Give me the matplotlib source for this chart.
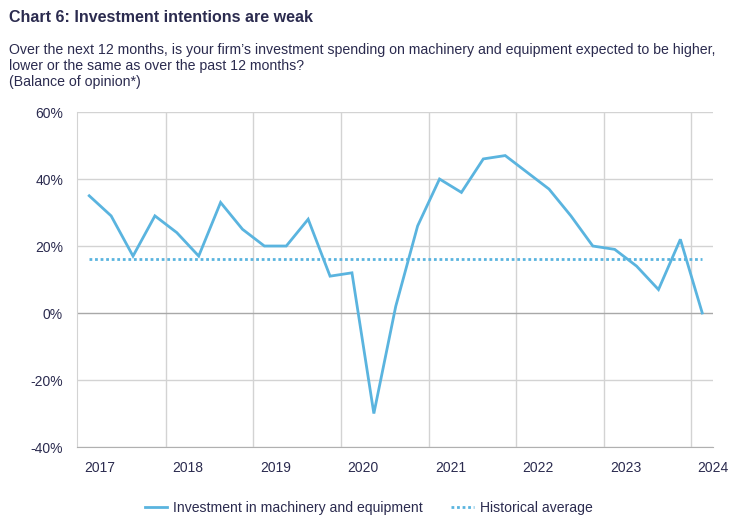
import matplotlib.pyplot as plt
from matplotlib.ticker import FuncFormatter

plt.rcParams['font.family'] = ['Liberation Sans', 'DejaVu Sans']

# Quarterly balance of opinion, % (2017 to 2024)
investment = [35, 29, 17, 29, 24, 17, 33, 25, 20, 20, 28, 11, 12,
              -30, 2, 26, 40, 36, 46, 47, 42, 37, 29, 20, 19, 14, 7, 22, 0]
historical_avg = 16
year_labels = ['2017', '2018', '2019', '2020', '2021', '2022', '2023', '2024']
y_ticks = [-40, -20, 0, 20, 40, 60]

line_col = '#5ab4df'
text_col = '#2b2b4f'
grid_col = '#d3d3d3'

fig = plt.figure(figsize=(7.33, 5.21), dpi=100)
ax = fig.add_axes([0.105, 0.142, 0.868, 0.643])

x = list(range(len(investment)))
ax.plot(x, investment, color=line_col, lw=2, label='Investment in machinery and equipment',
        solid_joinstyle='miter', zorder=3)
ax.plot([x[0], x[-1]], [historical_avg, historical_avg], color=line_col, lw=2,
        linestyle=(0, (1, 1)), label='Historical average', zorder=3)

# year gridlines sit between the Q4 and Q1 points, labels are offset
for k in range(7):
    ax.axvline(3.5 + 4 * k, color=grid_col, lw=1, zorder=1)
for yv in y_ticks:
    ax.axhline(yv, color='#a8a8a8' if yv == 0 else grid_col, lw=1, zorder=1)

ax.set_xlim(-0.56, 28.4)
ax.set_ylim(-40, 60)
ax.set_yticks(y_ticks)
ax.yaxis.set_major_formatter(FuncFormatter(lambda v, p: f'{int(v)}%'))
ax.set_xticks([0.5 + 4 * k for k in range(len(year_labels))])
ax.set_xticklabels(year_labels)
ax.tick_params(axis='both', length=0, labelsize=10, colors=text_col)
ax.tick_params(axis='x', pad=10)
ax.tick_params(axis='y', pad=10)

for s in ['top', 'right']:
    ax.spines[s].set_visible(False)
ax.spines['left'].set_color(grid_col)
ax.spines['bottom'].set_color('#b0b0b0')

fig.text(0.012, 0.967, 'Chart 6: Investment intentions are weak', fontsize=11.5,
         fontweight='bold', color=text_col, va='center')
fig.text(0.012, 0.917,
         "Over the next 12 months, is your firm\u2019s investment spending on machinery and equipment expected to be higher,\n"
         "lower or the same as over the past 12 months?\n(Balance of opinion*)",
         fontsize=10.2, color=text_col, va='top', linespacing=1.15)

leg = fig.legend(loc='center', bbox_to_anchor=(0.503, 0.025), ncol=2, frameon=False,
                 fontsize=10.1, handlelength=1.6, columnspacing=2.0, handletextpad=0.45)
for t in leg.get_texts():
    t.set_color(text_col)

plt.savefig('out.png', dpi=100)
